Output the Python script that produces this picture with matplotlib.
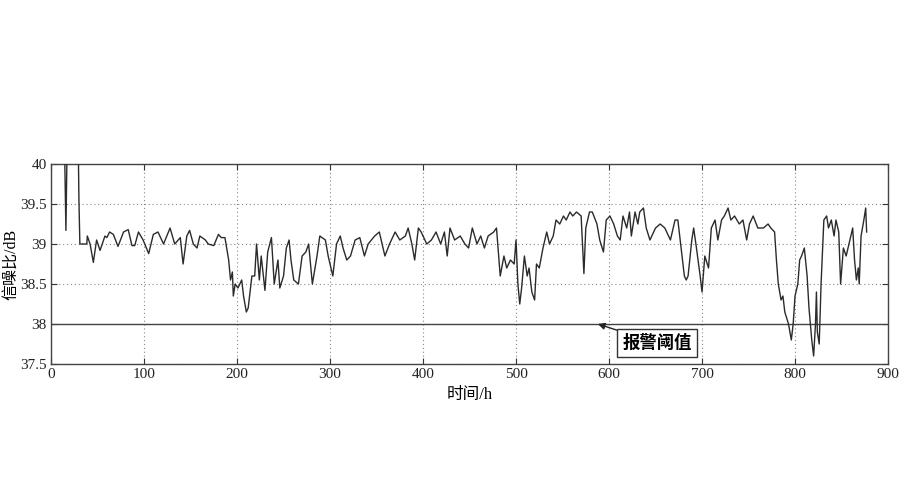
import matplotlib
matplotlib.use("Agg")
import matplotlib.pyplot as plt

# ---- data ----
hours = [12, 14, 16, 18, 20, 26, 29, 30, 31, 34, 38.5, 39, 42, 45.5, 49, 52.7, 58, 60, 63, 67,
         72, 78, 83, 87, 90, 94, 99, 105, 110, 115, 121, 128, 133, 139, 142, 146, 149, 153, 157,
         160, 166, 169, 175, 180, 183, 187, 191, 193, 195, 196, 198, 201, 205, 207, 210, 212,
         216, 219, 221, 224, 226, 230, 233, 237, 240, 244, 246, 250, 253, 256, 258, 261, 266,
         270, 274, 277, 281, 286, 289, 295, 298, 303, 307, 311, 314, 318, 322, 327, 332, 337,
         341, 348, 353, 359, 364, 370, 375, 381, 384, 388, 391, 395, 398, 404, 409, 414, 419,
         423, 426, 429, 434, 440, 445, 449, 453, 458, 462, 466, 470, 476, 479, 481, 483, 487,
         490, 494, 498, 500, 502, 504, 506, 509, 512, 514, 517, 520, 522, 525, 529, 533, 536,
         540, 543, 547, 551, 554, 558, 561, 565, 570, 573, 575, 579, 582, 587, 590, 594, 597,
         601, 605, 609, 612, 615, 619, 622, 624, 628, 631, 633, 637, 640, 644, 650, 655, 660,
         666, 671, 674, 678, 681, 683, 685, 689, 691, 694, 698, 700, 703, 707, 710, 714, 717,
         721, 724, 728, 731, 735, 740, 744, 748, 751, 755, 760, 766, 771, 774, 778, 780, 782,
         785, 787, 789, 793, 796, 798, 800, 803, 805, 807, 810, 813, 815, 818, 820, 822, 823,
         824, 826, 828, 831, 834, 836, 839, 842, 844, 847, 849, 852, 855, 859, 862, 864, 866,
         868, 869, 871, 874, 876, 877]
snr = [41.0, 40.6, 39.17, 40.8, 41.0, 41.0, 40.5, 39.55, 39.0, 39.0, 39.0, 39.1, 39.0, 38.77,
       39.05, 38.92, 39.1, 39.08, 39.15, 39.12, 38.97, 39.15, 39.18, 38.98, 38.98, 39.15, 39.05,
       38.88, 39.12, 39.15, 39.0, 39.2, 39.0, 39.08, 38.75, 39.1, 39.17, 39.0, 38.95, 39.1,
       39.05, 39.0, 38.98, 39.12, 39.08, 39.08, 38.8, 38.55, 38.65, 38.35, 38.5, 38.45, 38.55,
       38.35, 38.15, 38.2, 38.6, 38.6, 39.0, 38.55, 38.85, 38.42, 38.9, 39.08, 38.5, 38.8,
       38.45, 38.6, 38.95, 39.05, 38.8, 38.55, 38.5, 38.85, 38.9, 39.0, 38.5, 38.85, 39.1,
       39.05, 38.85, 38.6, 39.0, 39.1, 38.95, 38.8, 38.85, 39.05, 39.08, 38.85, 39.0, 39.1,
       39.15, 38.85, 39.0, 39.15, 39.05, 39.1, 39.2, 39.0, 38.8, 39.2, 39.15, 39.0, 39.05,
       39.15, 39.0, 39.15, 38.85, 39.2, 39.05, 39.1, 39.0, 38.95, 39.2, 39.0, 39.1, 38.95,
       39.1, 39.15, 39.2, 38.9, 38.6, 38.85, 38.7, 38.8, 38.75, 39.05, 38.5, 38.25, 38.45,
       38.85, 38.6, 38.7, 38.4, 38.3, 38.75, 38.7, 38.95, 39.15, 39.0, 39.1, 39.3, 39.25,
       39.35, 39.3, 39.4, 39.35, 39.4, 39.35, 38.63, 39.2, 39.4, 39.4, 39.25, 39.05, 38.9,
       39.3, 39.35, 39.25, 39.1, 39.05, 39.35, 39.2, 39.4, 39.1, 39.4, 39.25, 39.4, 39.45,
       39.2, 39.05, 39.2, 39.25, 39.2, 39.05, 39.3, 39.3, 38.9, 38.6, 38.55, 38.6, 39.05,
       39.2, 38.95, 38.6, 38.4, 38.85, 38.7, 39.2, 39.3, 39.05, 39.3, 39.35, 39.45, 39.3,
       39.35, 39.25, 39.3, 39.05, 39.25, 39.35, 39.2, 39.2, 39.25, 39.2, 39.15, 38.8, 38.5,
       38.3, 38.35, 38.15, 38.0, 37.8, 38.0, 38.35, 38.5, 38.8, 38.85, 38.95, 38.6, 38.2,
       37.8, 37.6, 38.0, 38.4, 37.9, 37.75, 38.5, 39.3, 39.35, 39.2, 39.3, 39.1, 39.3, 39.15,
       38.5, 38.95, 38.85, 39.05, 39.2, 38.8, 38.55, 38.7, 38.5, 39.1, 39.3, 39.45, 39.15]

threshold = 38.0
xticks = [0, 100, 200, 300, 400, 500, 600, 700, 800, 900]
yticks = [37.5, 38, 38.5, 39, 39.5, 40]
ytick_labels = ["37.5", "38", "38.5", "39", "39.5", "40"]
xlabel = "时间/h"
ylabel = "信噪比/dB"
annot_text = "报警阈值"

fam = ["Liberation Serif", "Noto Sans CJK SC"]
plt.rcParams["font.family"] = fam

fig = plt.figure(figsize=(9, 5), dpi=100)
ax = fig.add_axes([0.0567, 0.272, 0.930, 0.400])

ax.plot(hours, snr, color="#2b2b2b", lw=1.0, zorder=3)
ax.axhline(threshold, color="#444444", lw=1.0, zorder=2)

ax.set_xlim(0, 900)
ax.set_ylim(37.5, 40)
ax.set_xticks(xticks)
ax.set_yticks(yticks)
ax.set_yticklabels(ytick_labels)
ax.grid(True, linestyle=(0, (1, 2.5)), color="#888888", lw=0.8)
ax.tick_params(direction="in", top=True, right=True, labelsize=11, length=4, pad=3,
               color="#333333", labelcolor="#222222")
for s in ax.spines.values():
    s.set_color("#444444")
    s.set_linewidth(1.0)

ax.set_xlabel(xlabel, fontsize=12, family=fam, labelpad=4)
ax.set_ylabel(ylabel, fontsize=11.5, family=fam)
ax.yaxis.set_label_coords(-0.038, 0.5)

ax.annotate(annot_text, xy=(588, threshold), xytext=(652, 37.76),
            fontsize=12.5, family=fam, ha="center", va="center", weight="bold",
            bbox=dict(boxstyle="square,pad=0.3", fc="white", ec="#333333", lw=1),
            arrowprops=dict(arrowstyle="-|>", color="#222222", lw=1,
                            shrinkA=0, shrinkB=0, mutation_scale=10),
            zorder=5)

fig.savefig("out.png", dpi=100, facecolor="white")
